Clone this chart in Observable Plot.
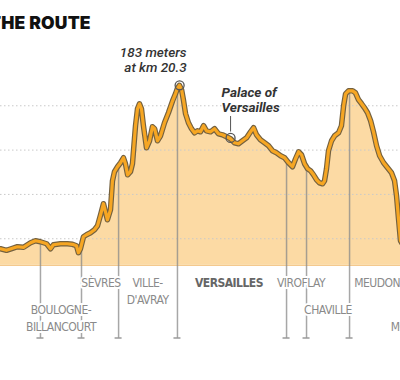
<!DOCTYPE html>
<html>
<head>
<meta charset="utf-8">
<script src="https://cdn.jsdelivr.net/npm/d3@7"></script>
<script src="https://cdn.jsdelivr.net/npm/@observablehq/plot@0.6"></script>
<style>
  html, body { margin: 0; padding: 0; background: #fff; }
  #wrap { position: relative; width: 400px; height: 380px; overflow: hidden; }
  #chart { position: absolute; left: 0; top: 0; }
  #title { position: absolute; left: -11px; top: 14px; font: 900 17.5px/1 Inter, "DejaVu Sans", sans-serif; color: #111; white-space: nowrap; letter-spacing: 0.2px; }
</style>
</head>
<body>
<div id="wrap"><div id="chart"></div><div id="title">THE ROUTE</div></div>
<script>
// Elevation profile (km along route, metres)
const km = [9.79,10.35,10.68,11.02,11.29,11.63,12.02,12.29,12.57,12.91,
  13.13,13.29,13.68,14.07,14.35,14.57,14.68,14.79,14.96,15.13,
  15.35,15.57,15.74,15.91,16.07,16.18,16.29,16.46,16.57,16.68,
  16.85,17.02,17.18,17.29,17.41,17.57,17.68,17.85,17.96,18.07,
  18.18,18.29,18.46,18.63,18.79,18.91,19.07,19.24,19.46,19.68,
  19.91,20.07,20.18,20.29,20.41,20.52,20.63,20.79,20.96,21.13,
  21.29,21.46,21.63,21.79,22.02,22.24,22.46,22.68,22.91,23.13,
  23.35,23.57,23.79,24.02,24.24,24.41,24.57,24.79,25.02,25.24,
  25.46,25.68,25.91,26.13,26.35,26.57,26.74,26.91,27.07,27.24,
  27.41,27.57,27.74,27.91,28.07,28.24,28.35,28.46,28.57,28.74,
  28.91,29.13,29.29,29.41,29.52,29.68,29.91,30.07,30.24,30.41,
  30.57,30.74,30.91,31.07,31.24,31.41,31.63,31.85,32.07,32.24,
  32.35,32.46,32.57,32.74,33.13];
const elevation = [31,31,29.6,31.4,32.8,32.3,36.4,38.2,37.3,35.5,
  31,34.6,35.5,35.5,35,33.7,27.4,31,41.8,43.6,
  45.4,48.1,51.7,61.7,71.6,64.4,57.1,66.2,92.3,100.5,
  105,108.6,113.1,107.7,97.7,100.5,107.7,142,157.3,161.8,
  157.3,142,122.1,128.4,141.1,139.3,128.4,132.9,144.7,153.7,
  164.5,170.8,175.8,178.5,174.4,164.5,152.8,144.7,139.3,135.6,
  137.4,136.5,142,137.4,136.5,139.3,134.7,133.8,132,130.2,
  126.6,125.7,128.4,131.1,136.5,140.2,133.8,129.3,126.6,123.9,
  119.4,117.6,114.9,113.1,108.6,105,112.2,118.5,115.8,107.7,
  103.2,101.4,97.7,93.2,90.5,89.6,92.3,103.2,119.4,128.4,
  132.9,135.6,142,160,170.8,173.5,173.5,171.7,165.4,161.8,
  158.2,153.7,146.5,136.5,123.9,114.9,108.6,104.1,99.6,92.3,
  78.8,58,38.2,33.7,32.8];

// Town boundaries along the route (km)
const boundaryKm = [12.57, 14.85, 16.91, 20.18, 26.24, 27.35, 29.74, 33.2];

// Town labels
const townNames = ["BOULOGNE-\nBILLANCOURT", "SÈVRES", "VILLE-\nD'AVRAY", "VERSAILLES", "VIROFLAY", "CHAVILLE", "MEUDON", "ISSY-LES-\nMOULINEAUX"];
const townKm = [13.71, 15.93, 18.52, 23.04, 27.04, 28.54, 31.27, 33.9];
const townRow = [2, 1, 1, 1, 1, 2, 1, 2];
const townHighlight = [false, false, false, true, false, false, false, false];

// Annotated points
const noteKm = [20.3, 23.13];
const noteElevation = [178.5, 131];
const noteText = ["183 meters\nat km 20.3", "Palace of\nVersailles"];

// Elevation gridlines (m)
const gridTicks = [40, 80, 120, 160];

const profile = km.map((k, i) => ({km: k, elev: elevation[i]}));
const elevAt = (k) => {
  const i = d3.bisectLeft(km, k);
  if (i <= 0) return elevation[0];
  if (i >= km.length) return elevation[km.length - 1];
  const t = (k - km[i - 1]) / (km[i] - km[i - 1]);
  return elevation[i - 1] + t * (elevation[i] - elevation[i - 1]);
};
const towns = townNames.map((n, i) => ({name: n, km: townKm[i], row: townRow[i], hi: townHighlight[i]}));
const notes = noteText.map((t, i) => ({km: noteKm[i], elev: noteElevation[i], text: t}));

const yMin = -50, yMax = 255, base = 16;
const labelFont = "'Liberation Sans Narrow', 'DejaVu Sans Condensed', Roboto, sans-serif";
const noteFont = "Roboto, 'Noto Sans', sans-serif";

const plot = Plot.plot({
  width: 400,
  height: 380,
  marginTop: 0, marginRight: 0, marginLeft: 0, marginBottom: 42,
  x: {domain: [10.35, 32.57], axis: null},
  y: {domain: [yMin, yMax], axis: null},
  style: {background: "transparent", overflow: "visible"},
  marks: [
    Plot.areaY(profile, {x: "km", y1: () => base, y2: "elev", fill: "#fcdaa4", clip: true}),
    Plot.ruleY([base], {stroke: "#f3c07a", strokeWidth: 1}),
    Plot.ruleY(gridTicks, {stroke: "#c9c9c9", strokeWidth: 1, strokeDasharray: "1.5,2.5"}),
    Plot.ruleX(boundaryKm, {x: d => d, y1: d => elevAt(d), y2: () => yMin, stroke: "#8a8a8a", strokeOpacity: 0.75, strokeWidth: 1.5}),
    Plot.rect(boundaryKm, {x1: d => d, x2: d => d, y1: () => yMin, y2: () => yMin,
      insetLeft: -3.5, insetRight: -3.5, insetTop: -0.75, insetBottom: -0.75, fill: "#9a9a9a"}),
    Plot.lineY(profile, {x: "km", y: "elev", stroke: "#74613f", strokeWidth: 5.5, strokeLinejoin: "round", clip: true}),
    Plot.lineY(profile, {x: "km", y: "elev", stroke: "#f6a623", strokeWidth: 3.2, strokeLinejoin: "round", clip: true}),
    Plot.dot(notes, {x: "km", y: "elev", r: 4.5, stroke: "#555", strokeWidth: 1.3, fill: "none"}),
    // town labels, row 1
    Plot.text(towns.filter(d => d.row === 1 && !d.hi), {x: "km", y: () => yMin, text: "name", lineAnchor: "top", dy: -64,
      lineHeight: 1.42, fontSize: 12, fontFamily: labelFont, fill: "#8a8a8a", stroke: "white", strokeWidth: 4, paintOrder: "stroke"}),
    Plot.text(towns.filter(d => d.row === 1 && d.hi), {x: "km", y: () => yMin, text: "name", lineAnchor: "top", dy: -64,
      lineHeight: 1.42, fontSize: 12, fontWeight: 700, fontFamily: labelFont, fill: "#666", stroke: "white", strokeWidth: 4, paintOrder: "stroke"}),
    // town labels, row 2
    Plot.text(towns.filter(d => d.row === 2), {x: "km", y: () => yMin, text: "name", lineAnchor: "top", dy: -37,
      lineHeight: 1.42, fontSize: 12, fontFamily: labelFont, fill: "#8a8a8a", stroke: "white", strokeWidth: 4, paintOrder: "stroke"}),
    // peak annotation
    Plot.text(notes.slice(0, 1), {x: "km", y: "elev", text: "text", textAnchor: "end", lineAnchor: "bottom", dx: 7, dy: -13,
      lineHeight: 1.11, fontSize: 13.5, fontStyle: "italic", fontWeight: 500, fontFamily: noteFont, fill: "#333"}),
    // palace annotation with leader
    Plot.ruleX(notes.slice(1), {x: "km", y1: "elev", y2: "elev", insetTop: -21.4, insetBottom: 5.9, stroke: "#555", strokeWidth: 1}),
    Plot.text(notes.slice(1), {x: "km", y: "elev", text: "text", textAnchor: "start", lineAnchor: "bottom", dx: -9, dy: -25.5,
      lineHeight: 1.15, fontSize: 13.5, fontStyle: "italic", fontWeight: 700, fontFamily: noteFont, fill: "#333"})
  ]
});
// condense the town labels slightly
plot.querySelectorAll("g[font-family]").forEach(g => {
  if ((g.getAttribute("font-family") || "").includes("Narrow")) g.setAttribute("letter-spacing", "-0.5");
});
document.getElementById("chart").appendChild(plot);
</script>
</body>
</html>
